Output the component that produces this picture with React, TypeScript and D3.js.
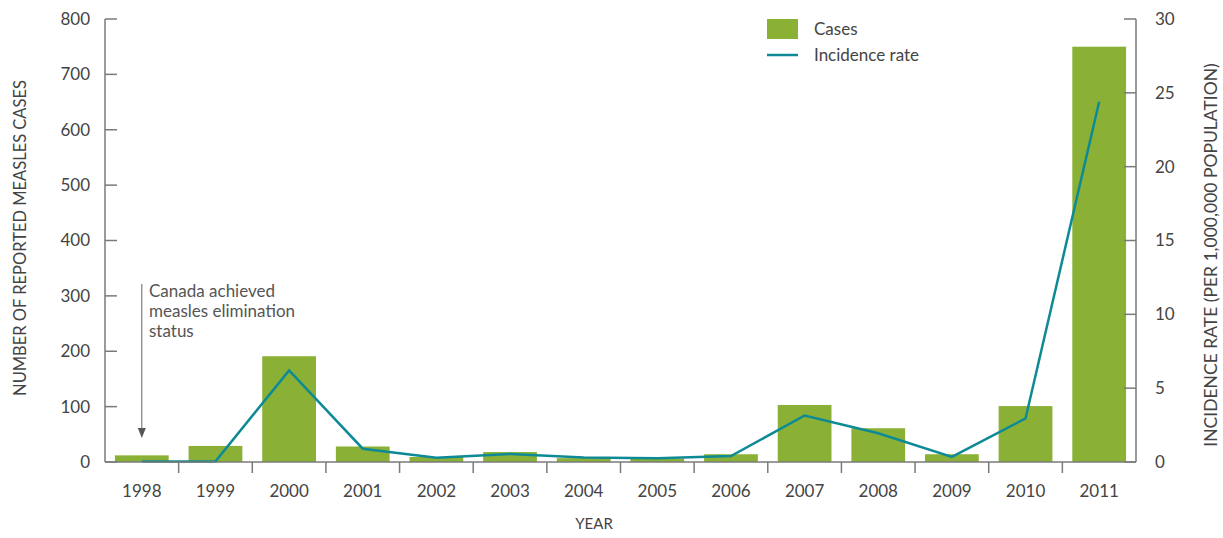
import React from "react";
import * as d3 from "d3";

const years = ["1998","1999","2000","2001","2002","2003","2004","2005","2006","2007","2008","2009","2010","2011"];
const cases = [12, 29, 191, 28, 9, 18, 7, 6, 14, 103, 61, 14, 101, 750];
const incidence = [0.04, 0.04, 6.2, 0.9, 0.28, 0.55, 0.3, 0.25, 0.4, 3.15, 1.95, 0.35, 2.95, 24.4];
const leftTicks = [0, 100, 200, 300, 400, 500, 600, 700, 800];
const rightTicks = [0, 5, 10, 15, 20, 25, 30];

const W = 1223, H = 538;
const m = { left: 105, right: 1136, top: 19, bottom: 462 };
const barColor = "#8AB136";
const lineColor = "#0E8A96";
const axisColor = "#7a7a7a";
const textColor = "#444";
const font = "Lato, 'Open Sans', sans-serif";

export default function App() {
  const x = d3.scaleBand<string>().domain(years).range([m.left, m.right]).paddingInner(0.27).paddingOuter(0.135);
  const xb = d3.scaleBand<string>().domain(years).range([m.left, m.right]);
  const yL = d3.scaleLinear().domain([0, 800]).range([m.bottom, m.top]);
  const yR = d3.scaleLinear().domain([0, 30]).range([m.bottom, m.top]);
  const cx = (y: string) => (xb(y) as number) + xb.bandwidth() / 2;
  const line = d3.line<number>().x((_, i) => cx(years[i])).y((d) => yR(d));
  const ax = cx("1998");
  return (
    <svg width={W} height={H} style={{ position: "absolute", left: 0, top: 0 }} fontFamily={font}>
      {years.map((yr, i) => (
        <rect key={yr} x={x(yr)} y={yL(cases[i])} width={x.bandwidth()} height={m.bottom - yL(cases[i])} fill={barColor} />
      ))}
      <path d={line(incidence) || ""} fill="none" stroke={lineColor} strokeWidth={2.5} strokeLinejoin="miter" />
      {/* left axis */}
      <line x1={m.left} x2={m.left} y1={m.top} y2={m.bottom} stroke={axisColor} strokeWidth={1.5} />
      {leftTicks.map((t) => (
        <g key={t}>
          <line x1={m.left} x2={m.left + 12} y1={yL(t)} y2={yL(t)} stroke={axisColor} strokeWidth={1.5} />
          <text x={90} y={yL(t)} dy="0.35em" textAnchor="end" fontSize={17} fill={textColor}>{t}</text>
        </g>
      ))}
      {/* right axis */}
      <line x1={m.right} x2={m.right} y1={m.top} y2={m.bottom} stroke={axisColor} strokeWidth={1.5} />
      {rightTicks.map((t) => (
        <g key={t}>
          <line x1={m.right - 12} x2={m.right} y1={yR(t)} y2={yR(t)} stroke={axisColor} strokeWidth={1.5} />
          <text x={1155} y={yR(t)} dy="0.35em" textAnchor="start" fontSize={17} fill={textColor}>{t}</text>
        </g>
      ))}
      {/* bottom axis */}
      <line x1={m.left} x2={m.right} y1={m.bottom} y2={m.bottom} stroke={axisColor} strokeWidth={1.5} />
      {years.slice(1).map((yr) => (
        <line key={yr} x1={xb(yr)} x2={xb(yr)} y1={m.bottom} y2={m.bottom + 11} stroke={axisColor} strokeWidth={1.5} />
      ))}
      {years.map((yr) => (
        <text key={yr} x={cx(yr)} y={497} textAnchor="middle" fontSize={17} fill={textColor}>{yr}</text>
      ))}
      <text x={594} y={529} textAnchor="middle" fontSize={15} fill={textColor}>YEAR</text>
      <text transform={`translate(26,238) rotate(-90)`} textAnchor="middle" fontSize={16.5} fill={textColor}>NUMBER OF REPORTED MEASLES CASES</text>
      <text transform={`translate(1217,255) rotate(-90)`} textAnchor="middle" fontSize={17.5} fill={textColor}>INCIDENCE RATE (PER 1,000,000 POPULATION)</text>
      {/* annotation */}
      <line x1={ax} x2={ax} y1={284} y2={430} stroke="#666" strokeWidth={1} />
      <polygon points={`${ax - 4},428 ${ax + 4},428 ${ax},438`} fill="#555" />
      <text x={149} y={297} fontSize={17} fill="#555">
        <tspan x={149} dy={0}>Canada achieved</tspan>
        <tspan x={149} dy={20}>measles elimination</tspan>
        <tspan x={149} dy={20}>status</tspan>
      </text>
      {/* legend */}
      <rect x={767} y={19} width={31} height={20} fill={barColor} />
      <text x={814} y={35} fontSize={17} fill={textColor}>Cases</text>
      <line x1={767} x2={798} y1={55} y2={55} stroke={lineColor} strokeWidth={2.5} />
      <text x={814} y={61} fontSize={17} fill={textColor}>Incidence rate</text>
    </svg>
  );
}
